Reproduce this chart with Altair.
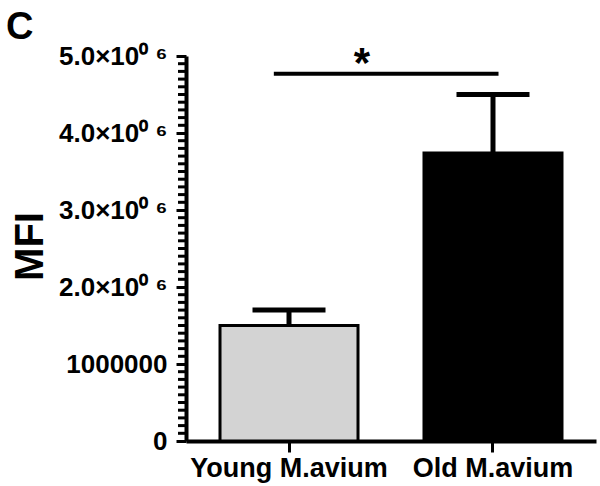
import altair as alt
import pandas as pd

# Group means and upper error limits (MFI)
groups = ["Young M.avium", "Old M.avium"]
means = [1500000, 3740000]
upper = [1700000, 4500000]
fills = ["#d3d3d3", "#000000"]

# Major ticks every 1e6, minor ticks every 1e5
major_ticks = [0, 1000000, 2000000, 3000000, 4000000, 5000000]
minor_ticks = [v for v in range(0, 5000001, 100000) if v % 1000000 != 0]
sig_level = 4770000

FONT = "Liberation Sans"

df = pd.DataFrame({"group": groups, "mfi": means, "upper": upper, "fill": fills})
sig_df = pd.DataFrame({"y": [sig_level]})
minor_df = pd.DataFrame({"v": minor_ticks})

x_scale = alt.Scale(paddingInner=0.3235, paddingOuter=0.1667)
x_axis = alt.Axis(
    title=None,
    labelAngle=0,
    labelFont=FONT,
    labelFontSize=27,
    labelFontWeight="bold",
    labelColor="black",
    labelPadding=3,
    labelLimit=0,
    tickSize=11,
    tickWidth=3,
    tickColor="black",
    domainWidth=4,
    domainColor="black",
)

label_expr = (
    "datum.value == 0 ? '0' : "
    "datum.value == 1000000 ? '1000000' : "
    "format(datum.value / 1000000, '.1f') + '×10⁰ ⁶'"
)

y_scale = alt.Scale(domain=[0, 5000000], nice=False)
y_axis = alt.Axis(
    title="MFI",
    titleFont=FONT,
    titleFontSize=40,
    titleFontWeight="bold",
    titleColor="black",
    titleAngle=270,
    titleBaseline="alphabetic",
    titleAlign="center",
    titleX=-144,
    titleY=190,
    values=major_ticks,
    labelExpr=label_expr,
    labelOverlap=False,
    labelFlush=False,
    labelLimit=0,
    labelFont=FONT,
    labelFontSize=26,
    labelFontWeight="bold",
    labelColor="black",
    labelPadding=9,
    tickSize=10,
    tickWidth=3,
    tickColor="black",
    domainWidth=4,
    domainColor="black",
    grid=False,
)


def x_group():
    return alt.X("group:N", sort=groups, scale=x_scale, axis=x_axis)


def y_of(field):
    return alt.Y(field, type="quantitative", scale=y_scale, axis=y_axis)


bars = alt.Chart(df).mark_bar(stroke="black", strokeWidth=3).encode(
    x=x_group(),
    y=y_of("mfi"),
    fill=alt.Fill("fill:N", scale=None),
)

err = alt.Chart(df).mark_rule(color="black", strokeWidth=5).encode(
    x=x_group(),
    y=y_of("mfi"),
    y2="upper:Q",
)

caps = alt.Chart(df).mark_tick(color="black", size=73, thickness=5, opacity=1).encode(
    x=x_group(),
    y=y_of("upper"),
)

# Minor ticks on the left side of the y axis
minor = alt.Chart(minor_df).mark_tick(
    color="black", orient="horizontal", size=8, thickness=3, opacity=1
).encode(
    x=alt.value(-4),
    y=y_of("v"),
)

sig_line = alt.Chart(sig_df).mark_rule(color="black", strokeWidth=4).encode(
    x=alt.X(datum="Young M.avium", type="nominal", bandPosition=0.39, scale=x_scale, axis=x_axis),
    x2=alt.X2(datum="Old M.avium", bandPosition=0.54),
    y=y_of("y"),
)

star = alt.Chart(sig_df).mark_text(
    text="*", font=FONT, fontSize=42, fontWeight="bold", color="black",
    baseline="alphabetic", dy=3, dx=4,
).encode(
    x=alt.X(datum="Young M.avium", type="nominal", bandPosition=1, scale=x_scale, axis=x_axis),
    y=y_of("y"),
)

chart = (
    alt.layer(bars, err, caps, minor, sig_line, star)
    .properties(
        width=410,
        height=385,
        autosize=alt.AutoSizeParams(type="none"),
        padding={"left": 186, "top": 56, "right": 4, "bottom": 45},
        title=alt.Title(
            "C",
            anchor="start",
            frame="group",
            font=FONT,
            fontSize=38,
            fontWeight="bold",
            color="black",
            dx=-180,
            offset=-4,
        ),
    )
    .configure_view(stroke=None)
)

chart.save("out.html", embed_options={"renderer": "svg", "actions": False})
